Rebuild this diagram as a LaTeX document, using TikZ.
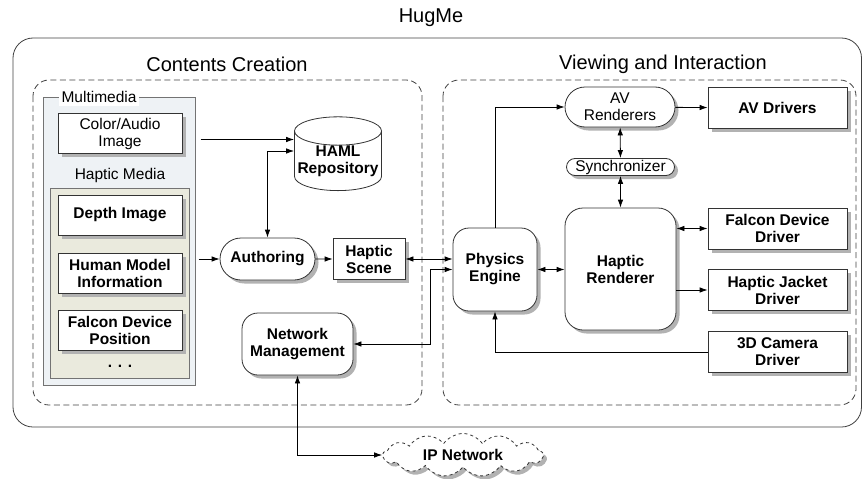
\documentclass[tikz,border=0pt]{standalone}
\usepackage{fontspec}
\setmainfont{Liberation Sans}
\usepackage{xcolor}
\usetikzlibrary{shapes,shapes.geometric,shapes.misc,shapes.symbols}
\usetikzlibrary{shadows,calc,arrows.meta}
\newcommand{\boxfont}{\fontsize{15.5}{17}\selectfont}
\newcommand{\titlefont}{\fontsize{20}{23}\selectfont}
\definecolor{mmfill}{HTML}{EEF2F5}
\definecolor{hmfill}{HTML}{EAEADD}
\tikzstyle{shade}=[drop shadow={shadow xshift=3.5pt,shadow yshift=-3.5pt,fill=black!30,opacity=1}]
\tikzstyle{box}=[draw=black!80,fill=white,line width=0.8pt,inner sep=0pt,align=center,font=\boxfont,shade]
\tikzstyle{media}=[box,minimum width=124pt,minimum height=40pt,font=\boxfont\bfseries]
\tikzstyle{driver}=[box,minimum width=139pt,minimum height=41pt,font=\boxfont\bfseries]
\tikzstyle{pill}=[box,rounded rectangle]
\tikzstyle{roundbox}=[box,rounded corners=16pt,font=\boxfont\bfseries]
\tikzstyle{area}=[draw=black!75,line width=0.8pt,dash pattern=on 6pt off 3.5pt,rounded corners=16pt]
\tikzstyle{arr}=[-{Latex[length=8pt,width=5.5pt]},line width=0.8pt]
\tikzstyle{biarr}=[{Latex[length=8pt,width=5.5pt]}-{Latex[length=8pt,width=5.5pt]},line width=0.8pt]

\begin{document}
\begin{tikzpicture}[x=1pt,y=-1pt]
\useasboundingbox (0,0) rectangle (862,479);
% frames
\draw[draw=black!75,line width=0.8pt,rounded corners=20pt] (13,38) rectangle (861.5,427);
\node[font=\titlefont] (hugme) at (431,18) {HugMe};
\draw[area] (33,80) rectangle (422,405);
\draw[area] (443,80) rectangle (856,405);
\node[font=\titlefont] (cctitle) at (227,64) {Contents Creation};
\node[font=\titlefont] (vititle) at (663,64) {Viewing and Interaction};

% contents creation
\node[draw=black!55,fill=mmfill,line width=1pt,minimum width=152pt,minimum height=288pt] (multimedia) at (119,241) {};
\node[fill=white,inner sep=3pt,font=\boxfont] (mmlabel) at (99,97) {Multimedia};
\node[media,font=\boxfont] (color) at (120,133.5) {Color/Audio\\Image};
\node[font=\boxfont] (hmlabel) at (120,175) {Haptic Media};
\node[draw=black!55,fill=hmfill,line width=1pt,minimum width=139pt,minimum height=190pt] (hapticmedia) at (119.5,283) {};
\foreach \name/\y/\txt in {depth/215/Depth Image, human/273/{Human Model\\Information}, falcon/330/{Falcon Device\\Position}}
	\node[media] (\name) at (120,\y) {\txt};
\node[font=\boxfont\bfseries] (dots) at (120,366) {. . .};

\node[cylinder,shape border rotate=90,aspect=0.35,draw=black!80,fill=white,line width=0.8pt,inner sep=0pt,
	minimum width=87pt,minimum height=64pt,align=center,font=\boxfont\bfseries] (haml) at (338,161) {HAML\\Repository};
\node[pill,minimum width=95pt,minimum height=42pt,font=\boxfont\bfseries] (authoring) at (267.5,259) {Authoring};
\node[box,minimum width=72pt,minimum height=41pt,font=\boxfont\bfseries] (scene) at (369,259) {Haptic\\Scene};
\node[roundbox,minimum width=111pt,minimum height=62pt] (network) at (297.5,344) {Network\\Management};
\node[cloud,cloud puffs=13,cloud puff arc=110,aspect=3.8,draw=black!80,dashed,line width=0.8pt,fill=white,
	inner sep=0pt,minimum width=160pt,minimum height=42pt,font=\boxfont\bfseries,shade] (ip) at (463,455) {IP Network};

% viewing and interaction
\node[roundbox,minimum width=84pt,minimum height=83pt] (physics) at (495,269.5) {Physics\\Engine};
\node[roundbox,rounded corners=18pt,minimum width=111pt,minimum height=122pt] (hrender) at (620.5,269) {Haptic\\Renderer};
\node[pill,minimum width=110pt,minimum height=40pt] (avrender) at (620,107) {AV\\Renderers};
\node[pill,minimum width=108pt,minimum height=17pt] (sync) at (620.5,167) {Synchronizer};
\foreach \name/\y/\txt in {avdrv/108/AV Drivers, falcondrv/228.5/{Falcon Device\\Driver}, jacketdrv/290/{Haptic Jacket\\Driver}, cameradrv/352/{3D Camera\\Driver}}
	\node[driver] (\name) at (777.5,\y) {\txt};

% connectors
\coordinate (c1) at ($(color.east)+(0,6)$);
\coordinate (c2) at ($(haml.west)+(0,-10)$);
\draw[arr,shorten <=5pt] (c1 -| multimedia.east) -- (c1 -| haml.west);
\draw[biarr] (c2) -| (authoring.north);
\draw[arr,shorten <=3pt] (authoring.west -| multimedia.east) -- (authoring.west);
\draw[arr] (authoring) -- (scene);
\draw[biarr] (scene.east) -- (scene.east -| physics.west);
\draw[biarr] (physics.west) -- ++(-22,0) |- (network.east);
\draw[biarr] (network.south) |- (ip.west);
\draw[arr] (physics.north) |- (avrender.west);
\draw[arr] (avrender) -- (avdrv);
\draw[biarr] (avrender) -- (sync);
\draw[biarr] (sync) -- (hrender);
\draw[biarr] (physics.east) -- (physics.east -| hrender.west);
\draw[biarr] (falcondrv.west -| hrender.east) -- (falcondrv.west);
\draw[arr] (jacketdrv.west -| hrender.east) -- (jacketdrv.west);
\draw[arr] (cameradrv.west) -| (physics.south);
\end{tikzpicture}
\end{document}
